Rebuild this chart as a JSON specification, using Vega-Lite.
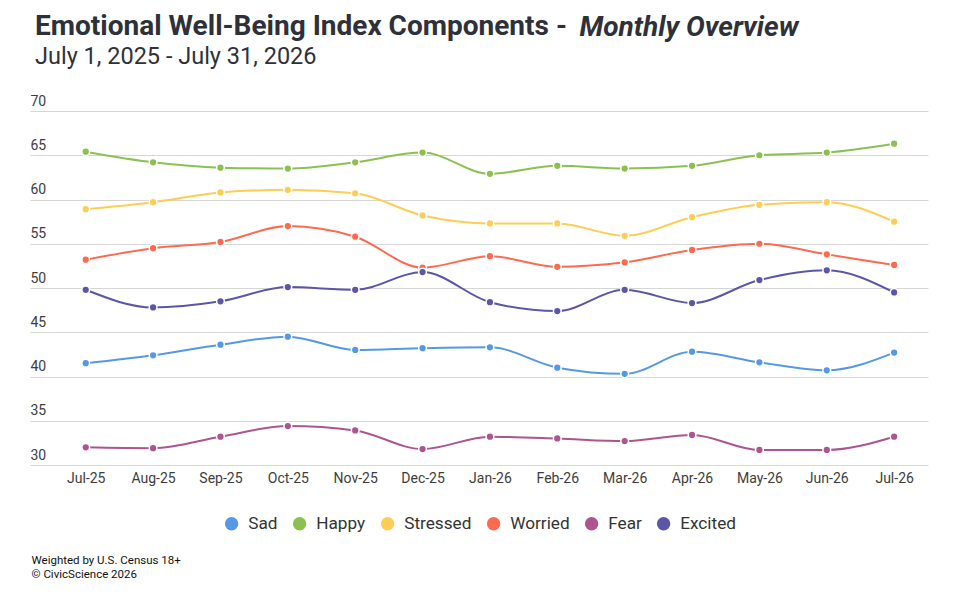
{
  "$schema": "https://vega.github.io/schema/vega-lite/v6.json",
  "autosize": {"type": "none"},
  "width": 898,
  "height": 354,
  "padding": {"left": 30, "top": 111, "right": 51, "bottom": 151},
  "background": "white",
  "config": {
    "font": "Roboto",
    "view": {"stroke": null}
  },
  "title": {
    "text": "Emotional Well-Being Index Components - ",
    "subtitle": "July 1, 2025 - July 31, 2026",
    "anchor": "start",
    "frame": "group",
    "dx": 5,
    "offset": -55,
    "font": "Roboto",
    "fontSize": 28,
    "fontWeight": "bold",
    "color": "#2e3139",
    "subtitleFont": "Roboto",
    "subtitleFontSize": 23.5,
    "subtitleColor": "#2e3139",
    "subtitlePadding": 4
  },
  "data": {
    "values": [
      {"month": "Jul-25", "series": "Sad", "value": 41.5},
      {"month": "Aug-25", "series": "Sad", "value": 42.4},
      {"month": "Sep-25", "series": "Sad", "value": 43.6},
      {"month": "Oct-25", "series": "Sad", "value": 44.5},
      {"month": "Nov-25", "series": "Sad", "value": 43.0},
      {"month": "Dec-25", "series": "Sad", "value": 43.2},
      {"month": "Jan-26", "series": "Sad", "value": 43.3},
      {"month": "Feb-26", "series": "Sad", "value": 41.0},
      {"month": "Mar-26", "series": "Sad", "value": 40.3},
      {"month": "Apr-26", "series": "Sad", "value": 42.8},
      {"month": "May-26", "series": "Sad", "value": 41.6},
      {"month": "Jun-26", "series": "Sad", "value": 40.7},
      {"month": "Jul-26", "series": "Sad", "value": 42.7},
      {"month": "Jul-25", "series": "Happy", "value": 65.4},
      {"month": "Aug-25", "series": "Happy", "value": 64.2},
      {"month": "Sep-25", "series": "Happy", "value": 63.6},
      {"month": "Oct-25", "series": "Happy", "value": 63.5},
      {"month": "Nov-25", "series": "Happy", "value": 64.2},
      {"month": "Dec-25", "series": "Happy", "value": 65.3},
      {"month": "Jan-26", "series": "Happy", "value": 62.9},
      {"month": "Feb-26", "series": "Happy", "value": 63.8},
      {"month": "Mar-26", "series": "Happy", "value": 63.5},
      {"month": "Apr-26", "series": "Happy", "value": 63.8},
      {"month": "May-26", "series": "Happy", "value": 65.0},
      {"month": "Jun-26", "series": "Happy", "value": 65.3},
      {"month": "Jul-26", "series": "Happy", "value": 66.3},
      {"month": "Jul-25", "series": "Stressed", "value": 58.9},
      {"month": "Aug-25", "series": "Stressed", "value": 59.7},
      {"month": "Sep-25", "series": "Stressed", "value": 60.8},
      {"month": "Oct-25", "series": "Stressed", "value": 61.1},
      {"month": "Nov-25", "series": "Stressed", "value": 60.7},
      {"month": "Dec-25", "series": "Stressed", "value": 58.2},
      {"month": "Jan-26", "series": "Stressed", "value": 57.3},
      {"month": "Feb-26", "series": "Stressed", "value": 57.3},
      {"month": "Mar-26", "series": "Stressed", "value": 55.9},
      {"month": "Apr-26", "series": "Stressed", "value": 58.0},
      {"month": "May-26", "series": "Stressed", "value": 59.4},
      {"month": "Jun-26", "series": "Stressed", "value": 59.7},
      {"month": "Jul-26", "series": "Stressed", "value": 57.5},
      {"month": "Jul-25", "series": "Worried", "value": 53.2},
      {"month": "Aug-25", "series": "Worried", "value": 54.5},
      {"month": "Sep-25", "series": "Worried", "value": 55.2},
      {"month": "Oct-25", "series": "Worried", "value": 57.0},
      {"month": "Nov-25", "series": "Worried", "value": 55.8},
      {"month": "Dec-25", "series": "Worried", "value": 52.3},
      {"month": "Jan-26", "series": "Worried", "value": 53.6},
      {"month": "Feb-26", "series": "Worried", "value": 52.4},
      {"month": "Mar-26", "series": "Worried", "value": 52.9},
      {"month": "Apr-26", "series": "Worried", "value": 54.3},
      {"month": "May-26", "series": "Worried", "value": 55.0},
      {"month": "Jun-26", "series": "Worried", "value": 53.8},
      {"month": "Jul-26", "series": "Worried", "value": 52.6},
      {"month": "Jul-25", "series": "Fear", "value": 32.0},
      {"month": "Aug-25", "series": "Fear", "value": 31.9},
      {"month": "Sep-25", "series": "Fear", "value": 33.2},
      {"month": "Oct-25", "series": "Fear", "value": 34.4},
      {"month": "Nov-25", "series": "Fear", "value": 33.9},
      {"month": "Dec-25", "series": "Fear", "value": 31.8},
      {"month": "Jan-26", "series": "Fear", "value": 33.2},
      {"month": "Feb-26", "series": "Fear", "value": 33.0},
      {"month": "Mar-26", "series": "Fear", "value": 32.7},
      {"month": "Apr-26", "series": "Fear", "value": 33.4},
      {"month": "May-26", "series": "Fear", "value": 31.7},
      {"month": "Jun-26", "series": "Fear", "value": 31.7},
      {"month": "Jul-26", "series": "Fear", "value": 33.2},
      {"month": "Jul-25", "series": "Excited", "value": 49.8},
      {"month": "Aug-25", "series": "Excited", "value": 47.8},
      {"month": "Sep-25", "series": "Excited", "value": 48.5},
      {"month": "Oct-25", "series": "Excited", "value": 50.1},
      {"month": "Nov-25", "series": "Excited", "value": 49.8},
      {"month": "Dec-25", "series": "Excited", "value": 51.8},
      {"month": "Jan-26", "series": "Excited", "value": 48.4},
      {"month": "Feb-26", "series": "Excited", "value": 47.4},
      {"month": "Mar-26", "series": "Excited", "value": 49.8},
      {"month": "Apr-26", "series": "Excited", "value": 48.3},
      {"month": "May-26", "series": "Excited", "value": 50.9},
      {"month": "Jun-26", "series": "Excited", "value": 52.0},
      {"month": "Jul-26", "series": "Excited", "value": 49.5}
    ]
  },
  "resolve": {"axis": {"x": "independent"}},
  "layer": [
    {
      "mark": {"type": "line", "interpolate": "monotone", "strokeWidth": 2},
      "encoding": {
        "x": {
          "field": "month",
          "type": "nominal",
          "sort": null,
          "scale": {"type": "point", "padding": 0.665, "align": 0.622},
          "axis": {
            "orient": "bottom",
            "domain": false,
            "ticks": false,
            "grid": false,
            "labelAngle": 0,
            "labelFontSize": 14,
            "labelColor": "#3d3d3d",
            "labelPadding": 6,
            "title": ["Weighted by U.S. Census 18+", "© CivicScience 2026"],
            "titleX": 1,
            "titleY": 89,
            "titleAlign": "left",
            "titleAnchor": "start",
            "titleBaseline": "top",
            "titleFontSize": 11.5,
            "titleFontWeight": "normal",
            "titleColor": "#111111",
            "titleLineHeight": 14
          }
        },
        "y": {
          "field": "value",
          "type": "quantitative",
          "scale": {"domain": [30, 70], "nice": false, "zero": false},
          "axis": {
            "values": [30, 35, 40, 45, 50, 55, 60, 65, 70],
            "domain": false,
            "ticks": false,
            "grid": true,
            "gridColor": "#d6d6d6",
            "gridWidth": 1,
            "labelAlign": "left",
            "labelBaseline": "bottom",
            "labelPadding": 0,
            "labelOffset": -3,
            "labelFontSize": 14,
            "labelColor": "#3d3d3d",
            "title": null
          }
        },
        "color": {
          "field": "series",
          "type": "nominal",
          "scale": {
            "domain": ["Sad", "Happy", "Stressed", "Worried", "Fear", "Excited"],
            "range": ["#5599e6", "#8bc150", "#fdcd55", "#fd6a4f", "#ad558f", "#5c56a8"]
          },
          "legend": {
            "orient": "none",
            "legendX": 193,
            "legendY": 404,
            "direction": "horizontal",
            "title": null,
            "symbolType": "circle",
            "symbolSize": 180,
            "symbolStrokeWidth": 0,
            "symbolOpacity": 1,
            "labelFontSize": 17.2,
            "labelColor": "#333333",
            "labelOffset": 8,
            "columnPadding": 13
          }
        }
      }
    },
    {
      "mark": {"type": "point", "filled": true, "opacity": 1, "size": 60, "stroke": "white", "strokeWidth": 1.5},
      "encoding": {
        "x": {
          "field": "month",
          "type": "nominal",
          "sort": null,
          "axis": {
            "orient": "top",
            "domain": false,
            "ticks": false,
            "labels": false,
            "grid": false,
            "title": "Monthly Overview",
            "titleX": 549,
            "titleY": -76,
            "titleAlign": "left",
            "titleAnchor": "start",
            "titleBaseline": "alphabetic",
            "titleFontSize": 28,
            "titleFontWeight": "bold",
            "titleFontStyle": "italic",
            "titleColor": "#2e3139"
          }
        },
        "y": {"field": "value", "type": "quantitative"},
        "color": {"field": "series", "type": "nominal"}
      }
    }
  ]
}
